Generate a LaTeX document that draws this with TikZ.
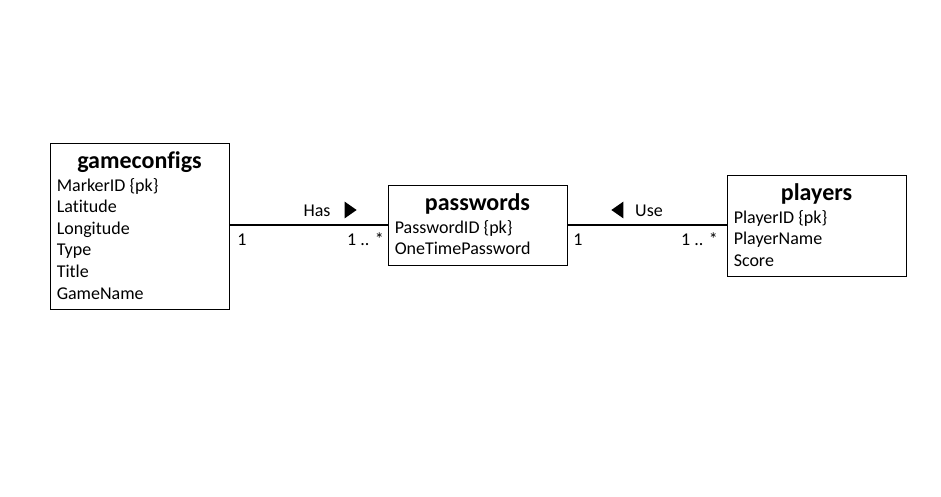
\documentclass[tikz,border=0pt]{standalone}
\usepackage{fontspec}
\setmainfont{Carlito}[Ligatures=NoCommon]
\usetikzlibrary{shapes.geometric, positioning}
\tikzstyle{entity} = [draw, line width=0.75pt, minimum width=134.25pt, inner sep=0pt]
\tikzstyle{title} = [font=\fontsize{18}{21}\selectfont\bfseries, inner sep=0pt, anchor=base]
\tikzstyle{attrs} = [font=\fontsize{13.5}{16.2}\selectfont, align=left, inner sep=0pt, anchor=north west]
\tikzstyle{assoc} = [line width=1.5pt]
\tikzstyle{mult} = [font=\fontsize{13.5}{16}\selectfont, inner sep=0pt, anchor=base]
\tikzstyle{dir} = [isosceles triangle, isosceles triangle apex angle=70, fill=black, inner sep=0pt, minimum height=9pt, minimum width=11.5pt]

\begin{document}
\begin{tikzpicture}[x=0.75pt, y=-0.75pt]
    \useasboundingbox (0,0) rectangle (941,496);

    % classes
    \node[entity, minimum height=124.5pt] (gameconfigs) at (139.5,226) {};
    \node[entity, minimum height=60pt] (passwords) at (477.5,225) {};
    \node[entity, minimum height=75.75pt] (players) at (816.5,225.5) {};

    \node[title] (gameconfigs-title) at ([yshift=-19.5pt]gameconfigs.north) {gameconfigs};
    \node[title] (passwords-title) at ([yshift=-19.5pt]passwords.north) {passwords};
    \node[title] (players-title) at ([yshift=-19.5pt]players.north) {players};

    \node[attrs] (gameconfigs-attrs) at ([xshift=5.25pt, yshift=-26.5pt]gameconfigs.north west)
        {MarkerID \{pk\}\\Latitude\\Longitude\\Type\\Title\\GameName};
    \node[attrs] (passwords-attrs) at ([xshift=5.25pt, yshift=-26.5pt]passwords.north west)
        {PasswordID \{pk\}\\OneTimePassword};
    \node[attrs] (players-attrs) at ([xshift=5.25pt, yshift=-26.5pt]players.north west)
        {PlayerID \{pk\}\\PlayerName\\Score};

    % associations
    \draw[assoc] (gameconfigs.east |- passwords.west) -- (passwords.west);
    \draw[assoc] (passwords.east) -- (players.west |- passwords.east);

    \node[mult] (has) at (317,216) {Has};
    \node[dir, shape border rotate=0] (has-dir) at (349,210) {};
    \node[mult] (has-one) at (242,245) {1};
    \node[mult, anchor=base east] (has-many) at (384,245) {1 .. *};

    \node[mult] (use) at (649,216) {Use};
    \node[dir, shape border rotate=180] (use-dir) at (619,210) {};
    \node[mult] (use-one) at (578,245) {1};
    \node[mult, anchor=base east] (use-many) at (718,245) {1 .. *};
\end{tikzpicture}
\end{document}
